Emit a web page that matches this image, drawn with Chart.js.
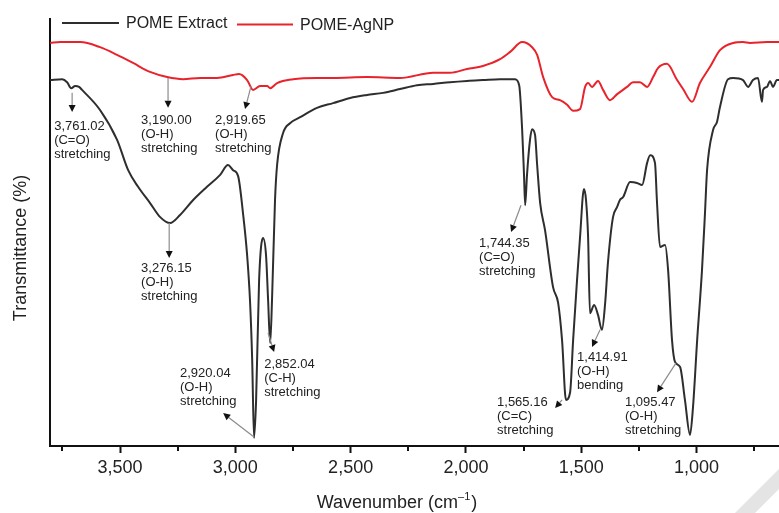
<!DOCTYPE html>
<html><head><meta charset="utf-8">
<script src="https://cdn.jsdelivr.net/npm/chart.js@4.4.0/dist/chart.umd.min.js"></script>
<style>html,body{margin:0;padding:0;background:#fff;}#wrap{width:779px;height:513px;position:relative;}</style>
</head><body><div id="wrap"><canvas id="c" width="779" height="513"></canvas></div>
<script>
// ---- data (wavenumber in cm-1, transmittance in arbitrary %) ----
const seriesNames = ['POME Extract', 'POME-AgNP'];

const extractWavenumber = [3803,3751,3730,3712,3695,3678,3665,3587,3513,3465,3422,3370,3326,3283,3240,3183,3123,3066,3032,3010,2988,2966,2949,2936,2927,2919,2910,2897,2880,2867,2858,2849,2841,2828,2819,2793,2763,2719,2646,2576,2502,2429,2359,2286,2212,2142,2069,1995,1926,1852,1787,1769,1756,1748,1743,1735,1722,1713,1700,1691,1678,1657,1622,1600,1583,1566,1548,1535,1518,1505,1488,1479,1470,1462,1444,1427,1410,1396,1384,1362,1344,1332,1318,1288,1258,1236,1214,1201,1180,1171,1158,1136,1123,1106,1093,1071,1050,1028,1015,997,976,963,954,928,911,898,863,841,798,776,755,733,716,711,694,681,668,651,642];
const extractTransmittance = [85.7,85.9,85.2,83.8,84.3,84.1,83.4,78.7,71.7,64.6,60.7,56.9,53.6,52.2,54.1,57.6,60.7,63.5,65.8,64.6,63.2,54.1,44.7,33.5,20.1,1.9,10.8,38.9,48.7,44.7,34.2,24.1,34.2,57.6,65.8,73.3,75.6,77.0,79.2,80.3,81.5,82.2,82.7,83.6,84.5,84.8,85.2,85.5,85.7,85.9,85.9,84.5,74.0,63.5,56.4,63.5,71.7,74.2,72.8,65.8,56.9,50.6,37.2,33.5,24.8,10.8,12.6,24.8,38.9,48.9,60.2,57.6,48.9,31.1,33.0,30.7,27.2,33.5,42.9,53.6,56.0,57.6,58.3,61.8,61.6,61.1,66.3,68.1,66.3,56.9,46.6,47.1,41.2,24.8,19.7,18.5,10.8,2.6,9.1,24.8,41.2,54.6,64.6,74.0,75.9,79.4,85.9,86.2,85.7,84.1,85.7,86.2,80.6,83.4,84.1,85.5,84.1,85.7,85.7];

const agnpWavenumber = [3803,3760,3673,3587,3513,3444,3370,3296,3227,3153,3079,3010,2984,2949,2923,2893,2862,2849,2819,2750,2646,2576,2429,2286,2142,2069,1995,1926,1852,1808,1756,1713,1691,1665,1626,1592,1561,1535,1505,1483,1470,1453,1427,1405,1375,1344,1301,1275,1245,1214,1188,1167,1128,1084,1058,1019,985,941,898,841,798,768,694,642];
const agnpTransmittance = [94.4,94.6,94.6,93.4,91.6,89.7,87.6,86.4,85.9,86.2,86.2,86.9,87.1,85.7,83.4,84.3,84.3,83.8,85.0,85.9,86.2,86.2,86.4,86.2,87.4,87.4,88.3,89.0,90.6,92.3,94.6,93.4,91.6,86.4,81.7,81.0,79.9,78.5,78.9,84.1,85.0,84.1,85.5,83.4,81.0,82.4,84.1,85.2,85.2,84.1,86.4,88.5,89.5,85.7,83.6,80.6,85.0,88.8,92.7,94.4,94.6,94.4,94.6,94.6];

const xMajorTicks = [1000, 1500, 2000, 2500, 3000, 3500];
const xMinorTicks = [750, 1250, 1750, 2250, 2750, 3250, 3750];

// peak annotations: label lines, arrow anchored on spectrum (from) -> arrow tip (to), text anchor
const peakText = [
  ['3,761.02', '(C=O)', 'stretching'],
  ['3,190.00', '(O-H)', 'stretching'],
  ['2,919.65', '(O-H)', 'stretching'],
  ['3,276.15', '(O-H)', 'stretching'],
  ['1,744.35', '(C=O)', 'stretching'],
  ['2,852.04', '(C-H)', 'stretching'],
  ['2,920.04', '(O-H)', 'stretching'],
  ['1,414.91', '(O-H)', 'bending'],
  ['1,565.16', '(C=C)', 'stretching'],
  ['1,095.47', '(O-H)', 'stretching']
];
const arrowFrom = [[3708,82.7],[3292,86.2],[2932,84.3],[3287,52.2],[1761,56.4],[2858,26.5],[2919,2.1],[1418,27.2],[1583,10.8],[1089,19.4]];
const arrowTo   = [[3708,78.2],[3292,79.2],[2958,78.9],[3287,44.0],[1804,50.1],[2832,22.0],[3053,7.7],[1453,23.2],[1613,8.9],[1171,12.6]];
const textAt    = [[3786,74.9],[3409,76.3],[3088,76.3],[3409,41.5],[1943,47.5],[2875,19.2],[3240,16.9],[1518,20.8],[1865,10.1],[1310,10.1]];

// ---- drawing ----
const FONT = '"Liberation Sans", Arial, Helvetica, sans-serif';
const TEXT = '#222';
const pts = (xs, ys) => xs.map((x, i) => ({x: x, y: ys[i]}));

const overlay = {
  id: 'overlay',
  afterDatasetsDraw(chart) {
    const {ctx, scales: {x, y}} = chart;
    ctx.save();
    peakText.forEach((lines, k) => {
      const x1 = x.getPixelForValue(arrowFrom[k][0]), y1 = y.getPixelForValue(arrowFrom[k][1]);
      const x2 = x.getPixelForValue(arrowTo[k][0]), y2 = y.getPixelForValue(arrowTo[k][1]);
      const a = Math.atan2(y2 - y1, x2 - x1);
      const hl = 7, hw = 3.5;
      const bx = x2 - hl * Math.cos(a), by = y2 - hl * Math.sin(a);
      ctx.strokeStyle = '#8c8c8c'; ctx.lineWidth = 1.2;
      ctx.beginPath(); ctx.moveTo(x1, y1); ctx.lineTo(bx, by); ctx.stroke();
      ctx.fillStyle = '#111';
      ctx.beginPath(); ctx.moveTo(x2, y2);
      ctx.lineTo(bx + hw * Math.sin(a), by - hw * Math.cos(a));
      ctx.lineTo(bx - hw * Math.sin(a), by + hw * Math.cos(a));
      ctx.closePath(); ctx.fill();
      ctx.font = '13px ' + FONT; ctx.fillStyle = TEXT;
      ctx.textAlign = 'left'; ctx.textBaseline = 'middle';
      const tx = x.getPixelForValue(textAt[k][0]), ty = y.getPixelForValue(textAt[k][1]);
      lines.forEach((s, i) => ctx.fillText(s, tx, ty + i * 14));
    });
    ctx.restore();
  },
  afterDraw(chart) {
    const {ctx, chartArea, scales: {x}} = chart;
    ctx.save();
    // minor ticks
    ctx.strokeStyle = '#111'; ctx.lineWidth = 2;
    xMinorTicks.forEach(v => {
      const px = Math.round(x.getPixelForValue(v));
      ctx.beginPath(); ctx.moveTo(px, chartArea.bottom); ctx.lineTo(px, chartArea.bottom + 5); ctx.stroke();
    });
    // legend
    const ds = chart.data.datasets;
    const leg = [{x0: 62, x1: 119, ly: 23, tx: 126, ty: 24}, {x0: 237, x1: 293, ly: 24.5, tx: 300, ty: 26}];
    ds.forEach((d, i) => {
      const L = leg[i];
      ctx.strokeStyle = d.borderColor; ctx.lineWidth = 2;
      ctx.beginPath(); ctx.moveTo(L.x0, L.ly); ctx.lineTo(L.x1, L.ly); ctx.stroke();
      ctx.font = '16px ' + FONT; ctx.fillStyle = TEXT; ctx.textAlign = 'left'; ctx.textBaseline = 'middle';
      ctx.fillText(d.label, L.tx, L.ty);
    });
    // x title with superscript
    ctx.fillStyle = TEXT; ctx.textBaseline = 'middle'; ctx.textAlign = 'left';
    const main = 'Wavenumber (cm', sup = '\u20131', end = ')';
    ctx.font = '18px ' + FONT; const w1 = ctx.measureText(main).width, w3 = ctx.measureText(end).width;
    ctx.font = '11px ' + FONT; const w2 = ctx.measureText(sup).width;
    let sx = 397 - (w1 + w2 + w3 + 1) / 2; const cy = 503;
    ctx.font = '18px ' + FONT; ctx.fillText(main, sx, cy); sx += w1;
    ctx.font = '11px ' + FONT; ctx.fillText(sup, sx, cy - 6); sx += w2 + 1;
    ctx.font = '18px ' + FONT; ctx.fillText(end, sx, cy);
    // y title
    ctx.translate(21, 248); ctx.rotate(-Math.PI / 2);
    ctx.textAlign = 'center'; ctx.font = '18px ' + FONT;
    ctx.fillText('Transmittance (%)', 0, 0);
    ctx.restore();
    // faint page mark bottom-right
    ctx.save();
    ctx.fillStyle = '#e4e4e4';
    ctx.beginPath(); ctx.moveTo(735, 513); ctx.lineTo(779, 469); ctx.lineTo(779, 489); ctx.lineTo(755, 513); ctx.closePath(); ctx.fill();
    ctx.restore();
  }
};

new Chart(document.getElementById('c'), {
  type: 'line',
  data: {
    datasets: [
      {label: seriesNames[0], data: pts(extractWavenumber, extractTransmittance), borderColor: '#2e2e2e', borderWidth: 2, pointRadius: 0, cubicInterpolationMode: 'monotone', fill: false},
      {label: seriesNames[1], data: pts(agnpWavenumber, agnpTransmittance), borderColor: '#e8232b', borderWidth: 2, pointRadius: 0, cubicInterpolationMode: 'monotone', fill: false}
    ]
  },
  options: {
    responsive: false, animation: false, devicePixelRatio: 1,
    layout: {padding: {top: 19, left: 0, right: 0, bottom: 0}},
    plugins: {legend: {display: false}, tooltip: {enabled: false}},
    scales: {
      x: {
        type: 'linear', reverse: true, min: 642, max: 3804,
        afterBuildTicks: s => { s.ticks = xMajorTicks.map(v => ({value: v})); },
        afterFit: s => { s.height = 67; },
        grid: {display: true, drawOnChartArea: false, tickLength: 7, tickWidth: 2, tickColor: '#111'},
        border: {display: true, color: '#111', width: 2},
        ticks: {color: TEXT, padding: 4, font: {family: FONT, size: 18}, maxRotation: 0, autoSkip: false,
          callback: v => v.toLocaleString('en-US')},
        title: {display: false}
      },
      y: {
        min: 0, max: 100,
        afterFit: s => { s.width = 50; },
        grid: {display: false},
        border: {display: true, color: '#111', width: 2},
        ticks: {display: false},
        title: {display: false}
      }
    }
  },
  plugins: [overlay]
});
</script>
</body></html>
